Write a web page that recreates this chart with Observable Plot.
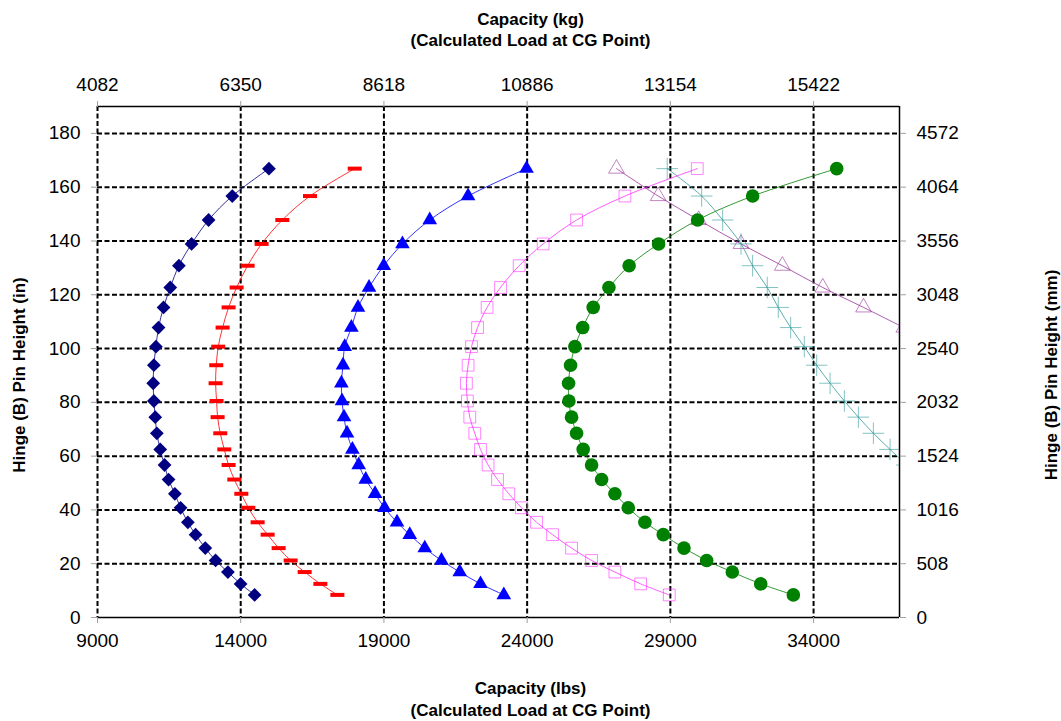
<!DOCTYPE html>
<html><head><meta charset="utf-8">
<script src="https://cdn.jsdelivr.net/npm/d3@7"></script>
<script src="https://cdn.jsdelivr.net/npm/@observablehq/plot@0.6"></script>
<style>body{margin:0;background:#fff} svg{display:block}</style>
</head><body><div id="chart"></div>
<script>
// Hinge (B) pin heights (in), bottom to top
const heights = [8.4, 12.5, 16.9, 21.2, 25.8, 30.8, 35.4, 40.8, 46, 51.3, 56.7, 62.5, 68.5, 74.5, 80.5, 87.1, 93.8, 100.7, 107.8, 115.3, 122.7, 130.8, 138.9, 147.8, 156.7, 166.9];
// Capacity (lbs) per series, aligned with heights
const navySeries = [14485, 13996, 13553, 13123, 12763, 12424, 12155, 11900, 11701, 11481, 11341, 11190, 11072, 11016, 10968, 10945, 10968, 11040, 11131, 11306, 11540, 11842, 12284, 12878, 13706, 14985];
const redSeries = [17375, 16781, 16233, 15743, 15324, 14940, 14590, 14266, 14021, 13776, 13577, 13426, 13286, 13193, 13158, 13123, 13146, 13215, 13368, 13577, 13857, 14241, 14730, 15453, 16418, 17980];
const blueSeries = [23186, 22371, 21648, 21009, 20425, 19901, 19457, 19020, 18690, 18364, 18119, 17899, 17711, 17606, 17536, 17515, 17571, 17630, 17864, 18095, 18480, 18993, 19647, 20600, 21938, 23979];
const magentaSeries = [28962, 27962, 27064, 26250, 25551, 24887, 24328, 23804, 23360, 22966, 22637, 22371, 22172, 21997, 21915, 21880, 21938, 22058, 22268, 22602, 23070, 23721, 24559, 25726, 27413, 29940];
const greenSeries = [33294, 32155, 31162, 30268, 29475, 28752, 28112, 27530, 27064, 26600, 26250, 25957, 25726, 25551, 25457, 25446, 25516, 25667, 25940, 26306, 26855, 27561, 28588, 29951, 31872, 34808];
// these two only cover the upper heights (last 8 and last 16 of heights)
const purpleSeries = [37150, 35744, 34320, 32909, 31466, 29990, 28575, 27120];
const cyanSeries = [37250, 36671, 36088, 35564, 35075, 34576, 34109, 33676, 33200, 32767, 32383, 31872, 31466, 30826, 30093, 28890];

const lbsTicks = [9000, 14000, 19000, 24000, 29000, 34000];
const kgLabels = ["4082", "6350", "8618", "10886", "13154", "15422"];
const inTicks = [0, 20, 40, 60, 80, 100, 120, 140, 160, 180];
const mmLabels = ["0", "508", "1016", "1524", "2032", "2540", "3048", "3556", "4064", "4572"];

function rows(xs) {
  const hs = heights.slice(heights.length - xs.length);
  return xs.map((x, i) => ({x, y: hs[i]}));
}
const dashSymbol = {draw(ctx, size) { ctx.rect(-7, -2, 14, 4); }};

const series = [
  {data: rows(purpleSeries), color: "#993399", symbol: "triangle2", r: 7.5, open: true},
  {data: rows(cyanSeries), color: "#339999", symbol: "plus", r: 7, open: true},
  {data: rows(navySeries), color: "#000080", symbol: "diamond2", r: 6.2, open: false},
  {data: rows(redSeries), color: "#ff0000", symbol: dashSymbol, r: 6, open: false},
  {data: rows(blueSeries), color: "#0000ff", symbol: "triangle2", r: 7, open: false},
  {data: rows(magentaSeries), color: "#ff33ff", symbol: "square2", r: 7.5, open: true},
  {data: rows(greenSeries), color: "#008000", symbol: "circle", r: 6.8, open: false}
];

const marks = [
  Plot.gridX(lbsTicks, {stroke: "black", strokeOpacity: 1, strokeWidth: 2, strokeDasharray: "5,2.5"}),
  Plot.gridY(inTicks.filter(d => d > 0), {stroke: "black", strokeOpacity: 1, strokeWidth: 2, strokeDasharray: "5,2.5"}),
  Plot.ruleY([0, 190], {stroke: "black", strokeWidth: 1.5}),
  Plot.ruleX([37000], {stroke: "black", strokeWidth: 1.5}),
  Plot.axisX({anchor: "bottom", ticks: lbsTicks, tickFormat: d => String(d), tickSize: 6, tickPadding: 10, stroke: "#a0a0a0", color: "black", fontSize: 19, label: null}),
  Plot.axisX({anchor: "top", ticks: lbsTicks, tickFormat: d => kgLabels[lbsTicks.indexOf(d)], tickSize: 6, tickPadding: 10, stroke: "#a0a0a0", color: "black", fontSize: 19, label: null}),
  Plot.axisY({anchor: "left", ticks: inTicks, tickFormat: d => String(d), tickSize: 6, tickPadding: 11, stroke: "#a0a0a0", color: "black", fontSize: 19, label: null}),
  Plot.axisY({anchor: "right", ticks: inTicks, tickFormat: d => mmLabels[inTicks.indexOf(d)], tickSize: 6, tickPadding: 11, stroke: "#a0a0a0", color: "black", fontSize: 19, label: null})
];
for (const s of series) {
  marks.push(Plot.line(s.data, {x: "x", y: "y", curve: "catmull-rom", stroke: s.color, strokeWidth: 1, strokeOpacity: 0.8, clip: true}));
}
for (const s of series) {
  marks.push(Plot.dot(s.data, {x: "x", y: "y", symbol: s.symbol, r: s.r,
    fill: s.open ? "none" : s.color, stroke: s.open ? s.color : "none", strokeWidth: 1, strokeOpacity: s.open ? 0.6 : 1, clip: true}));
}
const titleFont = {fontWeight: "bold", fontSize: 17, lineHeight: 1.25, fill: "black", textAnchor: "middle"};
marks.push(
  Plot.text(["Capacity (kg)\n(Calculated Load at CG Point)"], {frameAnchor: "top", dx: 32, dy: -97, ...titleFont}),
  Plot.text(["Capacity (lbs)\n(Calculated Load at CG Point)"], {frameAnchor: "bottom", dx: 32, dy: 98, ...titleFont}),
  Plot.text(["Hinge (B) Pin Height (in)"], {frameAnchor: "left", dx: -79, dy: 13, rotate: -90, ...titleFont}),
  Plot.text(["Hinge (B) Pin Height (mm)"], {frameAnchor: "right", dx: 151, dy: 13, rotate: -90, ...titleFont})
);

const chart = Plot.plot({
  width: 1061, height: 721,
  marginLeft: 97, marginRight: 162, marginTop: 106, marginBottom: 104,
  x: {domain: [9000, 37000]},
  y: {domain: [0, 190]},
  style: {fontFamily: "Arial, 'Liberation Sans', sans-serif", fontSize: "19px", background: "white", color: "black"},
  marks
});
document.getElementById("chart").appendChild(chart);
</script>
</body></html>
